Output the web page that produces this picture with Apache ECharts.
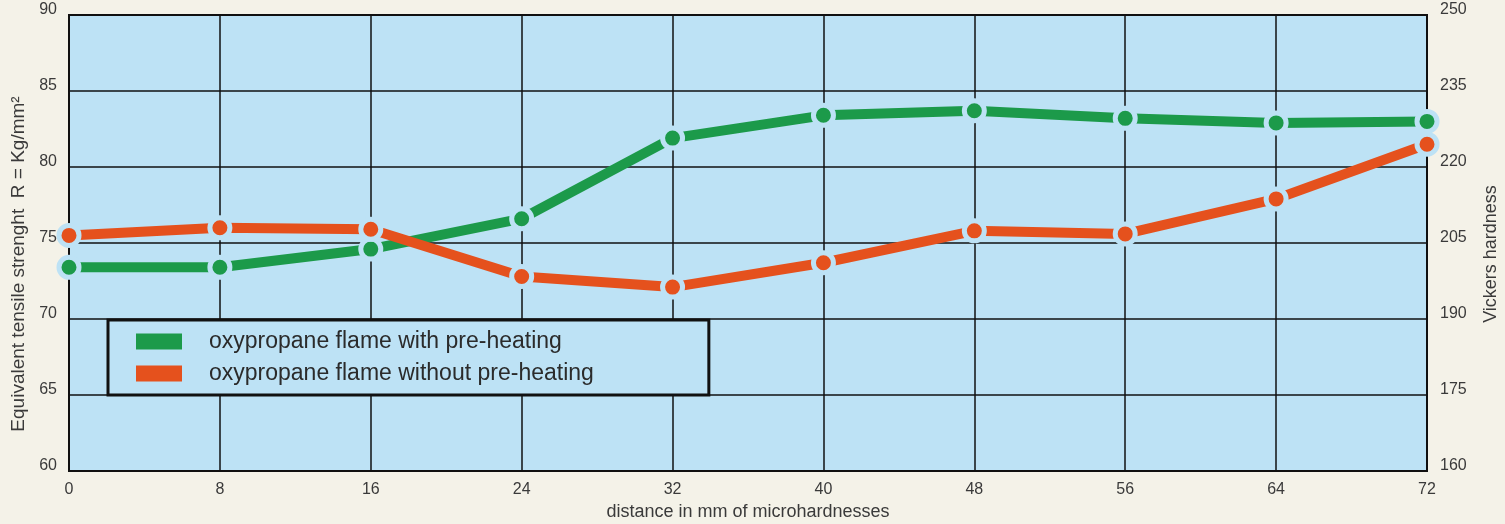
<!DOCTYPE html>
<html><head><meta charset="utf-8">
<script src="https://cdn.jsdelivr.net/npm/echarts@6/dist/echarts.min.js"></script>
<style>html,body{margin:0;padding:0;background:#f4f2e8;}#c{width:1505px;height:524px;}</style>
</head><body><div id="c"></div>
<script>
const distances = [0, 8, 16, 24, 32, 40, 48, 56, 64, 72];
const withPreheat = [73.4, 73.4, 74.6, 76.6, 81.9, 83.4, 83.7, 83.2, 82.9, 83.0];
const withoutPreheat = [75.5, 76.0, 75.9, 72.8, 72.1, 73.7, 75.8, 75.6, 77.9, 81.5];
const seriesNames = ['oxypropane flame with pre-heating', 'oxypropane flame without pre-heating'];
const seriesColors = ['#1c9a4a', '#e5511d'];
const plotBg = '#bde2f5';

const chart = echarts.init(document.getElementById('c'), null, {renderer: 'canvas'});
function mk(name, vals, color) {
  return {
    name: name, type: 'line', yAxisIndex: 0,
    data: distances.map((d, i) => [d, vals[i]]),
    symbol: 'circle', symbolSize: 20, showAllSymbol: true,
    lineStyle: {color: color, width: 10, cap: 'butt'},
    itemStyle: {color: color, borderColor: plotBg, borderWidth: 5},
    emphasis: {disabled: true}, animation: false
  };
}
const font = '"Liberation Sans", Arial, sans-serif';
chart.setOption({
  backgroundColor: '#f4f2e8',
  animation: false,
  grid: {left: 69, right: 78, top: 15, bottom: 53, outerBoundsMode: 'none', containLabel: false, show: true, backgroundColor: plotBg, borderColor: '#111', borderWidth: 2},
  legend: {
    left: 108, top: 320, orient: 'vertical',
    backgroundColor: plotBg, borderColor: '#111', borderWidth: 3, borderRadius: 0,
    padding: [10, 115, 10, 28], itemGap: 9, itemWidth: 46, itemHeight: 16,
    icon: 'rect', selectedMode: false,
    textStyle: {fontSize: 23, lineHeight: 22, color: '#2b2b2b', fontFamily: font, padding: [0, 0, 0, 22]},
    data: seriesNames.map((n, i) => ({name: n, itemStyle: {color: seriesColors[i], borderWidth: 0}}))
  },
  xAxis: {
    type: 'value', min: 0, max: 72, interval: 8,
    name: 'distance in mm of microhardnesses', nameLocation: 'middle', nameGap: 32,
    nameTextStyle: {fontSize: 18, color: '#3a3a3a', fontFamily: font},
    axisLine: {show: false}, axisTick: {show: false},
    axisLabel: {margin: 11, fontSize: 16, color: '#3a3a3a', fontFamily: font},
    splitLine: {show: true, lineStyle: {color: '#111', width: 1.5}}
  },
  yAxis: [{
    type: 'value', min: 60, max: 90, interval: 5,
    name: 'Equivalent tensile strenght  R = Kg/mm²', nameLocation: 'middle', nameGap: 38, nameRotate: 90,
    nameTextStyle: {fontSize: 19, color: '#3a3a3a', fontFamily: font, padding: [0, 42, 0, 0]},
    axisLine: {show: false}, axisTick: {show: false},
    axisLabel: {margin: 12, fontSize: 16, color: '#3a3a3a', fontFamily: font, verticalAlign: 'bottom', padding: [0,0,-3,0]},
    splitLine: {show: true, lineStyle: {color: '#111', width: 1.5}}
  }, {
    type: 'value', min: 160, max: 250, interval: 15, position: 'right',
    name: 'Vickers hardness', nameLocation: 'middle', nameGap: 55, nameRotate: 90,
    nameTextStyle: {fontSize: 18, color: '#3a3a3a', fontFamily: font, padding: [0, 22, 0, 0]},
    axisLine: {show: false}, axisTick: {show: false},
    axisLabel: {margin: 13, fontSize: 16, color: '#3a3a3a', fontFamily: font, verticalAlign: 'bottom', padding: [0,0,-3,0]},
    splitLine: {show: false}
  }],
  series: [mk(seriesNames[0], withPreheat, seriesColors[0]), mk(seriesNames[1], withoutPreheat, seriesColors[1])]
});
</script></body></html>
